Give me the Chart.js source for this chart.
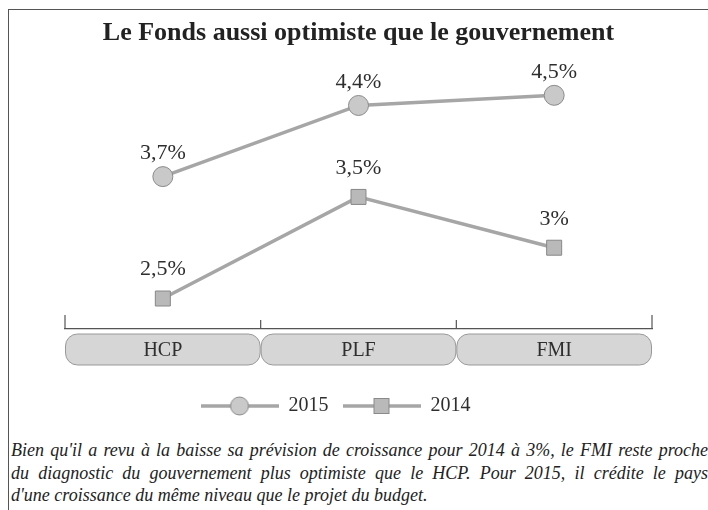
<!DOCTYPE html>
<html lang="fr">
<head>
<meta charset="utf-8">
<title>Le Fonds aussi optimiste que le gouvernement</title>
<script src="https://cdn.jsdelivr.net/npm/chart.js@4.4.1/dist/chart.umd.min.js"></script>
<style>
  html, body { margin: 0; padding: 0; background: #fff; }
  #page { position: relative; width: 708px; height: 510px; overflow: hidden; }
  #frame {
    position: absolute; left: 8px; top: 9px; width: 720px; height: 520px;
    border-top: 1.5px solid #555; border-left: 1.5px solid #555;
  }
  #growthChart { position: absolute; left: 0; top: 0; }
  #caption {
    position: absolute; left: 11px; top: 439px; width: 697px;
    font: italic 18px "Liberation Serif", serif; line-height: 22.5px; color: #222;
  }
  #caption .j { text-align: justify; text-align-last: justify; white-space: nowrap; }
</style>
</head>
<body>
<div id="page">
  <div id="frame"></div>
  <canvas id="growthChart" width="708" height="426"></canvas>
  <div id="caption">
    <div class="j">Bien qu'il a revu à la baisse sa prévision de croissance pour 2014 à 3%, le FMI reste proche</div>
    <div class="j">du diagnostic du gouvernement plus optimiste que le HCP. Pour 2015, il crédite le pays</div>
    <div>d'une croissance du même niveau que le projet du budget.</div>
  </div>
</div>
<script>
// Data
const categories = ["HCP", "PLF", "FMI"];
const growth2015 = [3.7, 4.4, 4.5];
const growth2014 = [2.5, 3.5, 3];
const seriesNames = ["2015", "2014"];

const LINE = "#a6a6a6";
const INK = "#2e2e2e";

const fmt = v => String(v).replace(".", ",") + "%";

// small line + marker pictures for the legend
function legendIcon(shape) {
  const c = document.createElement("canvas");
  c.width = 78; c.height = 22;
  const g = c.getContext("2d");
  g.strokeStyle = LINE; g.lineWidth = 3.5;
  g.beginPath(); g.moveTo(0, 11); g.lineTo(78, 11); g.stroke();
  g.lineWidth = 1; g.strokeStyle = "#8a8a8a";
  if (shape === "circle") {
    g.fillStyle = "#c9c9c9";
    g.beginPath(); g.arc(39, 11, 9, 0, Math.PI * 2); g.fill(); g.stroke();
  } else {
    g.fillStyle = "#b9b9b9";
    g.fillRect(31.5, 3.5, 15, 15); g.strokeRect(31.5, 3.5, 15, 15);
  }
  return c;
}
const icons = [legendIcon("circle"), legendIcon("rect")];

// value labels above the points
const pointLabels = {
  id: "pointLabels",
  afterDatasetsDraw(chart) {
    const ctx = chart.ctx;
    ctx.save();
    ctx.font = '22px "Liberation Serif"';
    ctx.fillStyle = INK;
    ctx.textAlign = "center";
    ctx.textBaseline = "middle";
    chart.data.datasets.forEach((ds, i) => {
      chart.getDatasetMeta(i).data.forEach((pt, j) => {
        ctx.fillText(fmt(ds.data[j]), pt.x, pt.y - ds.labelOffset);
      });
    });
    ctx.restore();
  }
};

// rounded tabs behind the category names + bracket ticks on the axis
const categoryTabs = {
  id: "categoryTabs",
  beforeDraw(chart) {
    const { ctx, chartArea, scales: { x } } = chart;
    const half = (x.getPixelForValue(1) - x.getPixelForValue(0)) / 2;
    const top = chartArea.bottom + 5;
    ctx.save();
    categories.forEach((c, i) => {
      const cx = x.getPixelForValue(i);
      ctx.beginPath();
      ctx.roundRect(cx - half + 0.5, top, half * 2 - 1, 31, 12);
      ctx.fillStyle = "#d6d6d6";
      ctx.fill();
      ctx.strokeStyle = "#999";
      ctx.lineWidth = 1;
      ctx.stroke();
    });
    ctx.restore();
  },
  afterDraw(chart) {
    const { ctx, chartArea, scales: { x } } = chart;
    const half = (x.getPixelForValue(1) - x.getPixelForValue(0)) / 2;
    ctx.save();
    ctx.strokeStyle = "#555";
    ctx.lineWidth = 1.2;
    for (let i = 0; i <= categories.length; i++) {
      const bx = x.getPixelForValue(0) - half + i * half * 2;
      const len = (i === 0 || i === categories.length) ? 14 : 9;
      ctx.beginPath();
      ctx.moveTo(bx, chartArea.bottom);
      ctx.lineTo(bx, chartArea.bottom - len);
      ctx.stroke();
    }
    ctx.restore();
  },
  afterLayout(chart) {
    // legend sits a little left of centre in the original
    chart.legend.left -= 23;
    chart.legend.right -= 23;
  }
};

new Chart(document.getElementById("growthChart"), {
  type: "line",
  data: {
    labels: categories,
    datasets: [
      {
        label: seriesNames[0],
        data: growth2015,
        borderColor: LINE,
        borderWidth: 3.5,
        pointStyle: "circle",
        pointRadius: 10,
        pointBackgroundColor: "#c9c9c9",
        pointBorderColor: "#8a8a8a",
        pointBorderWidth: 1,
        labelOffset: 23
      },
      {
        label: seriesNames[1],
        data: growth2014,
        borderColor: LINE,
        borderWidth: 3.5,
        pointStyle: "rect",
        pointRadius: 10.6,
        pointBackgroundColor: "#b9b9b9",
        pointBorderColor: "#888",
        pointBorderWidth: 1,
        labelOffset: 29
      }
    ]
  },
  options: {
    responsive: false,
    animation: false,
    layout: { autoPadding: false, padding: { left: 65, right: 56, top: 0, bottom: 0 } },
    plugins: {
      title: {
        display: true,
        text: "Le Fonds aussi optimiste que le gouvernement",
        color: "#222",
        font: { family: "Liberation Serif", size: 26, weight: "bold" },
        padding: { top: 17.4, bottom: 26.4 }
      },
      legend: {
        position: "bottom",
        labels: {
          usePointStyle: true,
          pointStyleWidth: 78,
          padding: 14,
          color: INK,
          font: { family: "Liberation Serif", size: 20 },
          generateLabels: chart => chart.data.datasets.map((ds, i) => ({
            text: ds.label,
            pointStyle: icons[i],
            datasetIndex: i,
            fontColor: INK,
            fillStyle: "transparent",
            strokeStyle: "transparent",
            lineWidth: 0,
            hidden: false
          }))
        }
      },
      tooltip: { enabled: false }
    },
    scales: {
      x: {
        offset: true,
        grid: { display: false, drawTicks: false },
        border: { display: true, color: "#555", width: 1.2 },
        ticks: {
          padding: 10,
          color: INK,
          font: { family: "Liberation Serif", size: 20 }
        },
        afterFit: s => { s.height += 9; }
      },
      y: {
        display: false,
        min: 2.2,
        max: 4.7
      }
    }
  },
  plugins: [categoryTabs, pointLabels]
});
</script>
</body>
</html>
